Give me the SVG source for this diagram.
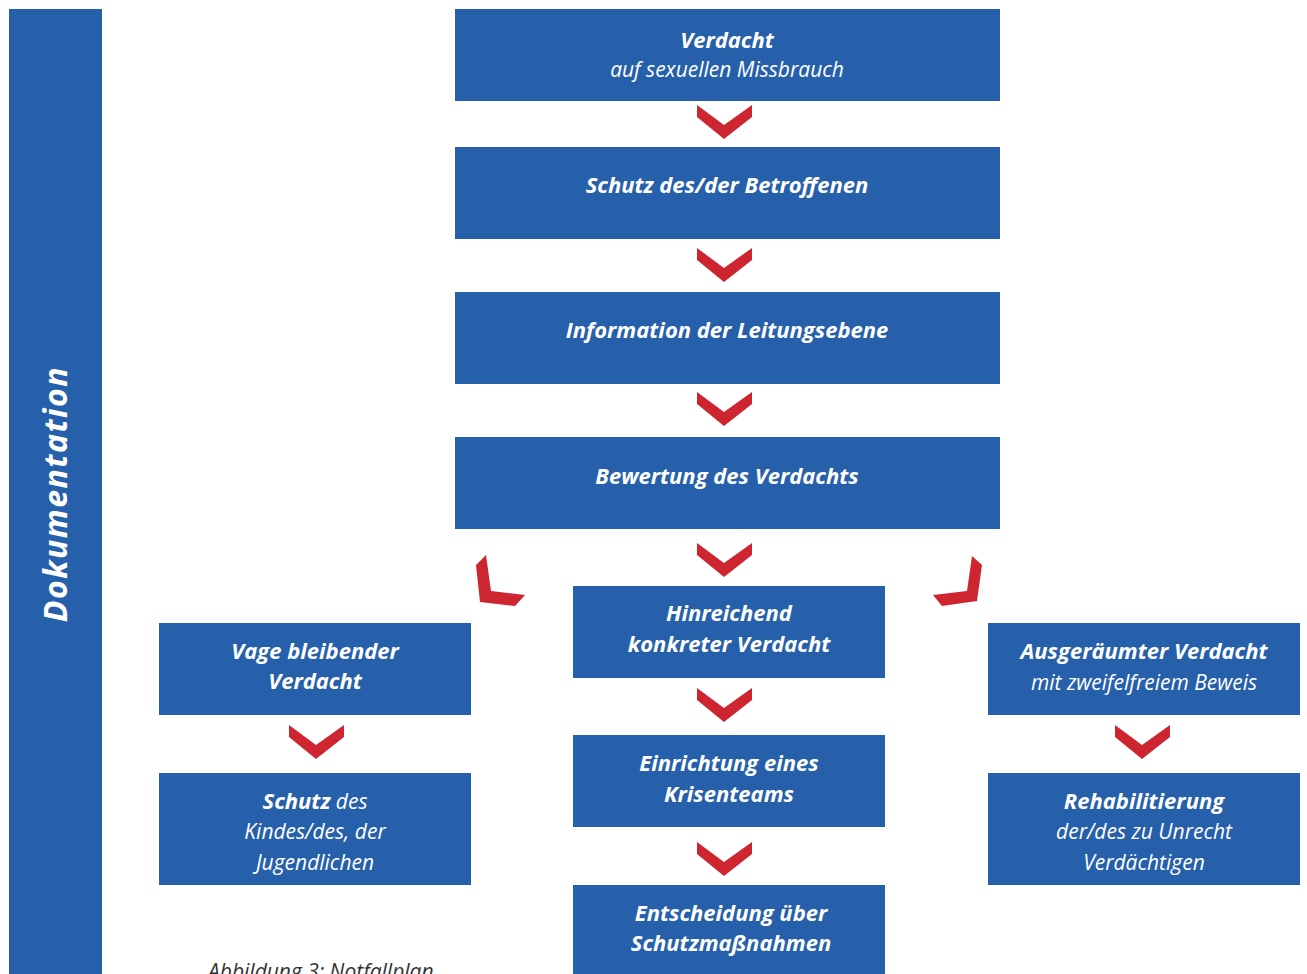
<svg xmlns="http://www.w3.org/2000/svg" width="1307" height="974" viewBox="0 0 1307 974">
<style>
.box{fill:#2760AA}
.chev{fill:#CE2631}
.b{font-family:"Open Sans","Liberation Sans",sans-serif;font-weight:bold;font-style:italic;font-size:22px;fill:#fff;text-anchor:middle}
.r{font-family:"Open Sans","Liberation Sans",sans-serif;font-style:italic;font-size:21px;fill:#fff;text-anchor:middle}
.cap{font-family:"Open Sans","Liberation Sans",sans-serif;font-style:italic;font-size:21px;fill:#333}
</style>
<defs>
<polygon id="chev" points="-27,0 0,20 28,0 28,12 0,34 -27,12"/>
</defs>
<rect width="1307" height="974" fill="#fff"/>
<g id="dokumentation">
<rect class="box" x="9" y="9" width="93" height="965"/>
<text class="b" style="font-size:32px;letter-spacing:1.5px" transform="translate(67,494) rotate(-90)">Dokumentation</text>
</g>
<g id="n1"><rect class="box" x="455" y="9" width="545" height="92"/>
<text class="b" x="727" y="48">Verdacht</text><text class="r" x="727" y="77">auf sexuellen Missbrauch</text></g>
<g id="n2"><rect class="box" x="455" y="147" width="545" height="92"/>
<text class="b" x="727" y="193">Schutz des/der Betroffenen</text></g>
<g id="n3"><rect class="box" x="455" y="292" width="545" height="92"/>
<text class="b" x="727" y="338">Information der Leitungsebene</text></g>
<g id="n4"><rect class="box" x="455" y="437" width="545" height="92"/>
<text class="b" x="727" y="484">Bewertung des Verdachts</text></g>
<g id="n5"><rect class="box" x="573" y="586" width="312" height="92"/>
<text class="b" x="729" y="621">Hinreichend</text><text class="b" x="729" y="652">konkreter Verdacht</text></g>
<g id="n6"><rect class="box" x="573" y="735" width="312" height="92"/>
<text class="b" x="729" y="771">Einrichtung eines</text><text class="b" x="729" y="802">Krisenteams</text></g>
<g id="n7"><rect class="box" x="573" y="885" width="312" height="89"/>
<text class="b" x="731" y="921">Entscheidung über</text><text class="b" x="731" y="951">Schutzmaßnahmen</text></g>
<g id="n8"><rect class="box" x="159" y="623" width="312" height="92"/>
<text class="b" x="315" y="659">Vage bleibender</text><text class="b" x="315" y="689">Verdacht</text></g>
<g id="n9"><rect class="box" x="159" y="773" width="312" height="112"/>
<text class="r" x="315" y="809"><tspan class="b" style="font-size:22px">Schutz</tspan>  des</text><text class="r" x="315" y="839">Kindes/des, der</text><text class="r" x="315" y="870">Jugendlichen</text></g>
<g id="n10"><rect class="box" x="988" y="623" width="312" height="92"/>
<text class="b" x="1144" y="659">Ausgeräumter Verdacht</text><text class="r" x="1144" y="690">mit zweifelfreiem Beweis</text></g>
<g id="n11"><rect class="box" x="988" y="773" width="312" height="112"/>
<text class="b" x="1144" y="809">Rehabilitierung</text><text class="r" x="1144" y="839">der/des zu Unrecht</text><text class="r" x="1144" y="870">Verdächtigen</text></g>
<g id="connectors">
<use href="#chev" class="chev" x="724" y="105"/>
<use href="#chev" class="chev" x="724" y="248"/>
<use href="#chev" class="chev" x="724" y="392"/>
<use href="#chev" class="chev" x="724" y="543"/>
<use href="#chev" class="chev" x="724" y="688"/>
<use href="#chev" class="chev" x="724" y="842"/>
<use href="#chev" class="chev" x="316" y="725"/>
<use href="#chev" class="chev" x="1142" y="725"/>
<polygon class="chev" points="476,565 486,555 491,591 525,595 515,606 480,602"/>
<polygon class="chev" points="982,565 972,556 967,591 933,595 942,606 977,601"/>
</g>
<text class="cap" x="208" y="979">Abbildung 3: Notfallplan</text>
</svg>
